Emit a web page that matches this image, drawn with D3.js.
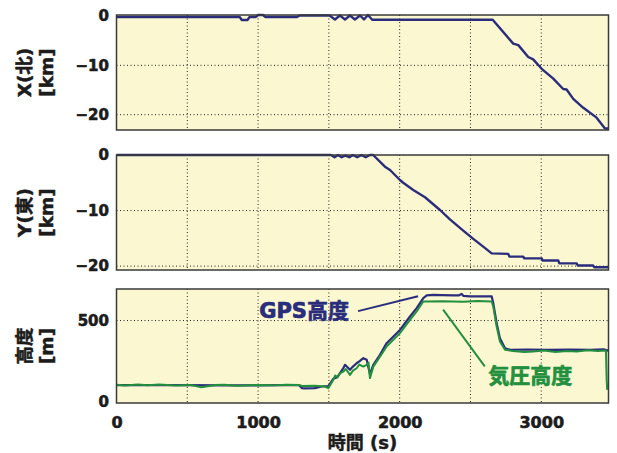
<!DOCTYPE html>
<html>
<head>
<meta charset="utf-8">
<script src="https://cdn.jsdelivr.net/npm/d3@7"></script>
<style>
html, body { margin: 0; padding: 0; background: #fff; }
svg { display: block; font-family: "DejaVu Sans", "Noto Sans CJK JP", sans-serif; font-weight: bold; }
</style>
</head>
<body>
<svg id="chart" width="617" height="453"></svg>
<script>
// Time axis (s)
const timeTicks = [0, 1000, 2000, 3000];
const timeGrid = [500, 1000, 1500, 2000, 2500, 3000];

// North position X (km)
const northTime = [0, 870, 885, 925, 940, 985, 1000, 1035, 1050, 1275, 1295, 1505, 1543, 1578, 1614, 1649, 1684, 1720, 1748, 1776, 1806, 2657, 2802, 2838, 2908, 2943, 3003, 3085, 3155, 3179, 3226, 3297, 3391, 3450, 3473];
const northKm = [-0.2, -0.2, -0.8, -0.8, -0.2, -0.2, 0.2, 0.2, -0.2, -0.2, 0.1, 0.1, -0.7, 0.1, -0.7, 0.1, -0.7, 0.1, -0.7, 0.2, -0.75, -0.75, -5.6, -5.9, -8.3, -8.8, -10.7, -12.7, -14.8, -14.9, -16.8, -18.6, -20.6, -22.8, -22.8];
const northTicks = [0, -10, -20];

// East position Y (km)
const eastTime = [0, 1515, 1540, 1565, 1590, 1615, 1645, 1670, 1700, 1730, 1760, 1790, 1813, 1896, 1932, 2002, 2025, 2096, 2179, 2285, 2355, 2449, 2520, 2590, 2650, 2767, 2775, 2873, 2880, 3003, 3010, 3120, 3128, 3250, 3258, 3367, 3375, 3473];
const eastKm = [0, 0, -0.4, 0, -0.4, -0.1, -0.4, 0, -0.4, 0, -0.4, 0, 0, -2.1, -2.7, -4.5, -5.0, -6.3, -7.6, -9.9, -11.6, -13.6, -15.1, -16.5, -17.7, -17.8, -18.3, -18.3, -18.6, -18.6, -19.0, -19.0, -19.5, -19.5, -19.9, -19.9, -20.2, -20.2];
const eastTicks = [0, -10, -20];

// GPS altitude (m)
const gpsTime = [0, 400, 800, 1200, 1290, 1310, 1330, 1400, 1450, 1496, 1531, 1560, 1602, 1614, 1649, 1670, 1696, 1720, 1743, 1767, 1790, 1814, 1861, 1908, 2002, 2073, 2120, 2167, 2191, 2237, 2300, 2379, 2420, 2438, 2449, 2496, 2650, 2661, 2685, 2708, 2744, 2779, 2900, 3050, 3200, 3350, 3440, 3473];
const gpsAlt = [100, 100, 99, 100, 100, 82, 80, 82, 92, 95, 140, 150, 205, 226, 195, 215, 236, 250, 267, 257, 170, 226, 288, 360, 442, 525, 577, 639, 655, 659, 657, 655, 656, 665, 653, 649, 649, 608, 484, 391, 329, 319, 321, 318, 320, 318, 322, 314];

// Barometric altitude (m)
const baroTime = [0, 60, 150, 220, 300, 420, 520, 600, 700, 760, 850, 1000, 1100, 1200, 1290, 1310, 1400, 1470, 1496, 1531, 1545, 1560, 1580, 1602, 1620, 1649, 1670, 1696, 1715, 1743, 1767, 1780, 1790, 1814, 1861, 1908, 2002, 2073, 2120, 2167, 2191, 2300, 2450, 2550, 2650, 2661, 2685, 2708, 2744, 2800, 2880, 2943, 3020, 3100, 3180, 3250, 3330, 3400, 3457, 3462, 3466];
const baroAlt = [103, 98, 104, 100, 104, 98, 102, 88, 101, 103, 97, 101, 99, 103, 101, 95, 96, 92, 82, 133, 160, 150, 175, 184, 200, 164, 190, 205, 228, 215, 226, 240, 144, 215, 277, 339, 422, 504, 556, 618, 618, 620, 616, 621, 618, 587, 463, 370, 319, 312, 305, 308, 315, 306, 312, 309, 316, 311, 314, 133, 71];
const altTicks = [0, 500];

const NAVY = "#2a2c7c";
const GREEN = "#23903f";
const INK = "#1c1c1c";
const PLOT_BG = "#fbf7d0";

const svg = d3.select("#chart");
const x = d3.scaleLinear().domain([0, 3475]).range([116.5, 608.5]);

// heavier lettering: fill plus a thin outline in the same colour
function heavy(sel, color, w) {
  sel.attr("fill", color).attr("stroke", color).attr("stroke-width", w)
     .attr("stroke-linejoin", "round");
}

const panels = [
  { top: 15, bottom: 130, domain: [-23.1, 0.2], ticks: northTicks, grid: [-10, -20],
    label: ["X(北)", "[km]"],
    series: [{ t: northTime, v: northKm, color: NAVY, width: 2.4 }] },
  { top: 155, bottom: 270, domain: [-20.7, 0], ticks: eastTicks, grid: [-10, -20],
    label: ["Y(東)", "[km]"],
    series: [{ t: eastTime, v: eastKm, color: NAVY, width: 2.4 }] },
  { top: 289, bottom: 403, domain: [-10, 695], ticks: altTicks, grid: [500],
    label: ["高度", "[m]"],
    series: [{ t: gpsTime, v: gpsAlt, color: NAVY, width: 2.2 },
             { t: baroTime, v: baroAlt, color: GREEN, width: 2 }] }
];

panels.forEach(p => {
  const y = d3.scaleLinear().domain(p.domain).range([p.bottom, p.top]);
  p.y = y;
  const g = svg.append("g");

  g.append("rect")
    .attr("x", x.range()[0]).attr("y", p.top)
    .attr("width", x.range()[1] - x.range()[0]).attr("height", p.bottom - p.top)
    .attr("fill", PLOT_BG);

  // dotted grid
  g.selectAll(".vg").data(timeGrid).join("line")
    .attr("x1", d => x(d)).attr("x2", d => x(d))
    .attr("y1", p.top).attr("y2", p.bottom)
    .attr("stroke", "#222").attr("stroke-width", 1).attr("stroke-dasharray", "1,2.5");
  g.selectAll(".hg").data(p.grid).join("line")
    .attr("x1", x.range()[0]).attr("x2", x.range()[1])
    .attr("y1", d => y(d)).attr("y2", d => y(d))
    .attr("stroke", "#222").attr("stroke-width", 1).attr("stroke-dasharray", "1,2.5");

  // series
  p.series.forEach(s => {
    const pts = s.t.map((t, k) => [t, s.v[k]]);
    g.append("path")
      .attr("d", d3.line().x(d => x(d[0])).y(d => y(d[1]))(pts))
      .attr("fill", "none").attr("stroke", s.color)
      .attr("stroke-width", s.width).attr("stroke-linejoin", "round");
  });

  // frame
  g.append("rect")
    .attr("x", x.range()[0]).attr("y", p.top)
    .attr("width", x.range()[1] - x.range()[0]).attr("height", p.bottom - p.top)
    .attr("fill", "none").attr("stroke", "#3a3a3a").attr("stroke-width", 1.5);

  // y tick labels
  const ax = g.append("g").attr("transform", `translate(${x.range()[0]},0)`)
    .call(d3.axisLeft(y).tickValues(p.ticks).tickSize(0).tickPadding(7.5).tickFormat(d3.format("d")));
  ax.select(".domain").remove();
  ax.selectAll("text").attr("font-size", 15)
    .attr("font-family", "DejaVu Sans").attr("font-weight", "bold")
    .call(heavy, INK, 0.6);

  // rotated axis title, two lines
  const cy = (p.top + p.bottom) / 2;
  [31, 53].forEach((bx, k) => {
    g.append("text")
      .attr("transform", `translate(${bx},${cy}) rotate(-90)`)
      .attr("text-anchor", "middle")
      .attr("font-size", 18.5)
      .call(heavy, INK, 0.5)
      .text(p.label[k]);
  });
});

// time axis on the bottom panel
const last = panels[2];
const xa = svg.append("g").attr("transform", `translate(0,${last.bottom})`)
  .call(d3.axisBottom(x).tickValues(timeTicks).tickSize(0).tickPadding(13.5).tickFormat(d3.format("d")));
xa.select(".domain").remove();
xa.selectAll("text").attr("font-size", 16)
  .attr("font-family", "DejaVu Sans").attr("font-weight", "bold")
  .call(heavy, INK, 0.6);

svg.append("text")
  .attr("x", (x.range()[0] + x.range()[1]) / 2).attr("y", 449)
  .attr("text-anchor", "middle").attr("font-size", 18)
  .call(heavy, INK, 0.5)
  .text("時間 (s)");

// series annotations with leader lines
const ya = last.y;
const annotations = [
  { text: "GPS高度", color: NAVY, at: [1008, 517], from: [1706, 558], to: [2130, 650] },
  { text: "気圧高度", color: GREEN, at: [2626, 114], from: [2307, 568], to: [2601, 217] }
];
annotations.forEach(a => {
  svg.append("line")
    .attr("x1", x(a.from[0])).attr("y1", ya(a.from[1]))
    .attr("x2", x(a.to[0])).attr("y2", ya(a.to[1]))
    .attr("stroke", a.color).attr("stroke-width", 2);
  svg.append("text")
    .attr("x", x(a.at[0])).attr("y", ya(a.at[1]))
    .attr("font-size", 21)
    .call(heavy, a.color, 0.7)
    .text(a.text);
});
</script>
</body>
</html>
